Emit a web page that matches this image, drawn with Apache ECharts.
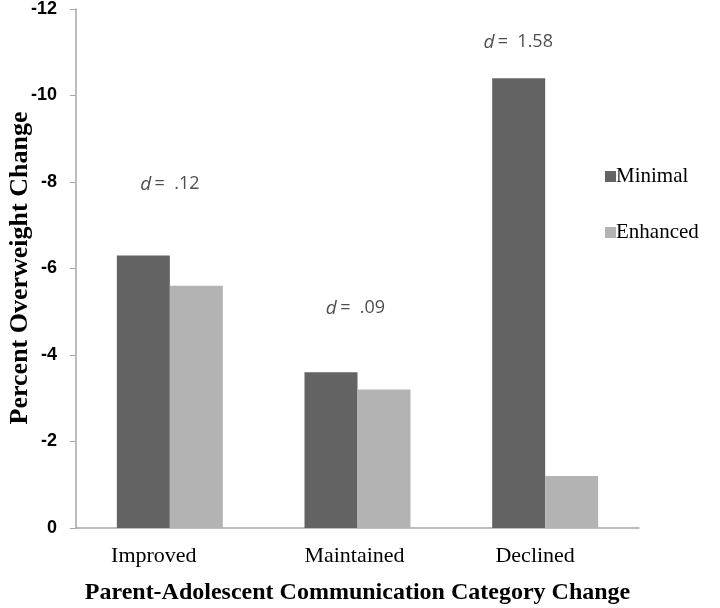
<!DOCTYPE html>
<html>
<head>
<meta charset="utf-8">
<script src="https://cdn.jsdelivr.net/npm/echarts@6/dist/echarts.min.js"></script>
<style>html,body{margin:0;padding:0;background:#fff}#c{width:720px;height:608px}</style>
</head>
<body>
<div id="c"></div>
<script>
var categories = ['Improved', 'Maintained', 'Declined'];
var minimalValues = [-6.3, -3.6, -10.4];
var enhancedValues = [-5.6, -3.2, -1.2];
var effectSizes = ['.12', '.09', '1.58'];
var effectLabelValues = [-7.95, -5.08, -11.23];
var yTicks = [0, -2, -4, -6, -8, -10, -12];
var yTitle = 'Percent Overweight Change';
var xTitle = 'Parent-Adolescent Communication Category Change';

var labelOffsets = [[0, 0], [-2, 0], [-27, 0]];
var catLabelPadRight = [32, 6, 20];

var chart = echarts.init(document.getElementById('c'), null, {renderer: 'canvas'});
var annData = categories.map(function (c, i) {
  return {
    value: [c, effectLabelValues[i]],
    label: {offset: labelOffsets[i], formatter: '{i|d} {n|=  ' + effectSizes[i] + '}'}
  };
});
var catData = categories.map(function (c, i) {
  return {value: c, textStyle: {padding: [0, catLabelPadRight[i], 0, 0]}};
});
chart.setOption({
  animation: false,
  backgroundColor: '#fff',
  grid: {left: 76, right: 81, top: 9, bottom: 80, containLabel: false, outerBoundsMode: 'none'},
  graphic: [{
    type: 'text',
    x: 20,
    y: 268,
    rotation: Math.PI / 2,
    style: {text: yTitle, fontFamily: 'Liberation Serif', fontWeight: 'bold', fontSize: 26,
      fill: '#000', align: 'center', verticalAlign: 'middle'}
  }],
  legend: {
    data: ['Minimal', 'Enhanced'],
    orient: 'vertical',
    left: 600,
    top: 161,
    itemWidth: 11,
    itemHeight: 11,
    itemGap: 35,
    icon: 'rect',
    textStyle: {fontFamily: 'Liberation Serif', fontSize: 21, color: '#000', padding: [0, 0, 0, -5]}
  },
  xAxis: {
    type: 'category',
    data: catData,
    name: xTitle,
    nameLocation: 'middle',
    nameGap: 53,
    nameTextStyle: {fontFamily: 'Liberation Serif', fontWeight: 'bold', fontSize: 24, color: '#000'},
    axisLine: {lineStyle: {color: '#a6a6a6', width: 1.5}},
    axisTick: {inside: true, length: 6, lineStyle: {color: '#a6a6a6'}},
    axisLabel: {fontFamily: 'Liberation Serif', fontSize: 22, color: '#000', margin: 17}
  },
  yAxis: {
    type: 'value',
    inverse: true,
    min: -12,
    max: 0,
    interval: 2,
    axisLine: {show: true, lineStyle: {color: '#a6a6a6', width: 1.5}},
    axisTick: {show: true, length: 6, lineStyle: {color: '#a6a6a6'}},
    splitLine: {show: false},
    axisLabel: {fontFamily: 'Liberation Sans', fontWeight: 'bold', fontSize: 18, color: '#000', margin: 19,
      formatter: function (v) { return yTicks.indexOf(v) >= 0 ? String(v) : ''; }}
  },
  series: [
    {name: 'Minimal', type: 'bar', data: minimalValues, barWidth: 53, barGap: '0%',
      itemStyle: {color: '#636363'}},
    {name: 'Enhanced', type: 'bar', data: enhancedValues, barWidth: 53, barGap: '0%',
      itemStyle: {color: '#b3b3b3'}},
    {name: 'effect', type: 'scatter', data: annData, symbolSize: 0, silent: true,
      label: {show: true, position: 'inside', color: '#222',
        rich: {
          i: {fontFamily: 'Open Sans', fontStyle: 'italic', fontSize: 19, color: '#222'},
          n: {fontFamily: 'Open Sans', fontSize: 18, color: '#222'}
        }}}
  ]
});
</script>
</body>
</html>
